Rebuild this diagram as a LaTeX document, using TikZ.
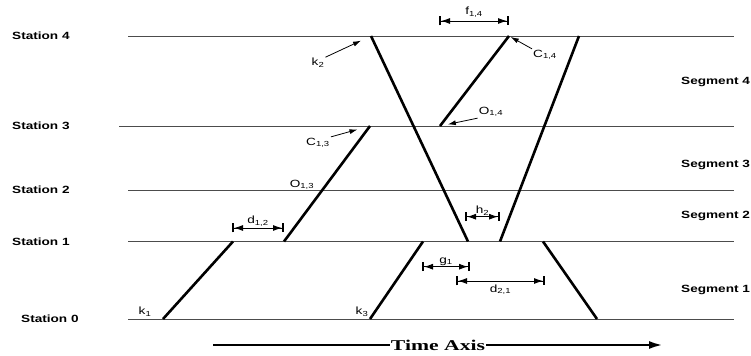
\documentclass[tikz,border=0pt]{standalone}
\usepackage{fontspec}
\setmainfont{Liberation Sans}[FakeStretch=1.3]
\newfontfamily\axisfont{Liberation Serif}[FakeStretch=1.45]
\usepackage{tikz}
\usetikzlibrary{arrows.meta}

\tikzset{
  station/.style={draw=black!70, line width=0.8bp},
  track/.style={line width=2.6bp},
  dimline/.style={line width=0.9bp,
    {Bar[width=9bp,line width=2bp]Latex[length=9bp,width=6bp]}-{Latex[length=9bp,width=6bp]Bar[width=9bp,line width=2bp]}},
  pointer/.style={line width=0.8bp, -{Latex[length=8bp,width=5bp]}},
  stlabel/.style={font=\fontsize{10.5}{12}\selectfont\bfseries, anchor=west, inner sep=0pt},
  lbl/.style={font=\fontsize{10.5}{12}\selectfont, inner sep=1bp},
}

\begin{document}
\begin{tikzpicture}[x=10bp, y=10bp]
  \useasboundingbox (0,0) rectangle (75.1,35.6);
  % stations
  \foreach \n/\y/\xl/\xs in {4/32.0/1.2/12.8, 3/23.0/1.2/11.9, 2/16.6/1.2/12.8,
                             1/11.45/1.2/12.8, 0/3.7/2.1/12.8}{
    \node[stlabel] (st\n) at (\xl,\y) {Station \n};
    \draw[station] (\xs,\y) -- (73.4,\y);
  }
  \foreach \n/\y in {4/27.4, 3/19.1, 2/14.0, 1/6.6}
    \node[stlabel] (seg\n) at (68.1,\y) {Segment \n};
  % track points
  \coordinate (k1)  at (16.3,3.7);
  \coordinate (a1)  at (23.3,11.45);
  \coordinate (b1)  at (28.4,11.45);
  \coordinate (C13) at (37.0,23.0);
  \coordinate (k2)  at (37.1,32.0);
  \coordinate (k2e) at (46.8,11.45);
  \coordinate (O14) at (44.0,23.0);
  \coordinate (C14) at (50.9,32.0);
  \coordinate (r4)  at (57.9,32.0);
  \coordinate (r1)  at (50.0,11.45);
  \coordinate (k3)  at (37.0,3.7);
  \coordinate (k3e) at (42.3,11.45);
  \coordinate (s1)  at (54.3,11.45);
  \coordinate (s0)  at (59.7,3.7);
  \draw[track] (k1) -- (a1);
  \draw[track] (b1) -- (C13);
  \draw[track] (k2) -- (k2e);
  \draw[track] (O14) -- (C14);
  \draw[track] (r4) -- (r1);
  \draw[track] (k3) -- (k3e);
  \draw[track] (s1) -- (s0);
  % gaps
  \draw[dimline] (43.9,33.5) -- node[lbl,above=2bp] {f\textsubscript{1,4}} (50.9,33.5);
  \draw[dimline] (23.2,12.8) -- node[lbl,above] {d\textsubscript{1,2}} (28.4,12.8);
  \draw[dimline] (46.5,13.93) -- node[lbl,above] {h\textsubscript{2}} (50.0,13.93);
  \draw[dimline] (42.2,8.93) -- node[lbl,above] {g\textsubscript{1}} (47.0,8.93);
  \draw[dimline] (45.6,7.5) -- node[lbl,below=2bp] {d\textsubscript{2,1}} (54.5,7.5);
  % labels
  \node[lbl] (lk1)  at (14.5,4.4)  {k\textsubscript{1}};
  \node[lbl] (lk3)  at (36.2,4.4)  {k\textsubscript{3}};
  \node[lbl] (lO13) at (30.2,17.1) {O\textsubscript{1,3}};
  \node[lbl] (lk2)  at (31.8,29.3) {k\textsubscript{2}};
  \node[lbl] (lC13) at (31.8,21.3) {C\textsubscript{1,3}};
  \node[lbl] (lC14) at (54.5,30.1) {C\textsubscript{1,4}};
  \node[lbl] (lO14) at (49.1,24.4) {O\textsubscript{1,4}};
  \draw[pointer, shorten >=11bp] (lk2.north east) -- (k2);
  \draw[pointer, shorten >=13bp] (lC13.north east) -- (C13);
  \draw[pointer, shorten >=2bp] (lC14.north west) -- (C14);
  \draw[pointer, shorten >=8bp] (lO14.south west) -- (O14);
  % time axis
  \node[font=\axisfont\fontsize{15}{16}\selectfont\bfseries, fill=white, inner sep=1bp]
    (time) at (43.8,1.1) {Time Axis};
  \draw[line width=2.5bp] (21.3,1.1) -- (time.west);
  \draw[line width=2.5bp, -{Latex[length=14bp,width=8bp]}] (time.east) -- (66.3,1.1);
\end{tikzpicture}
\end{document}
